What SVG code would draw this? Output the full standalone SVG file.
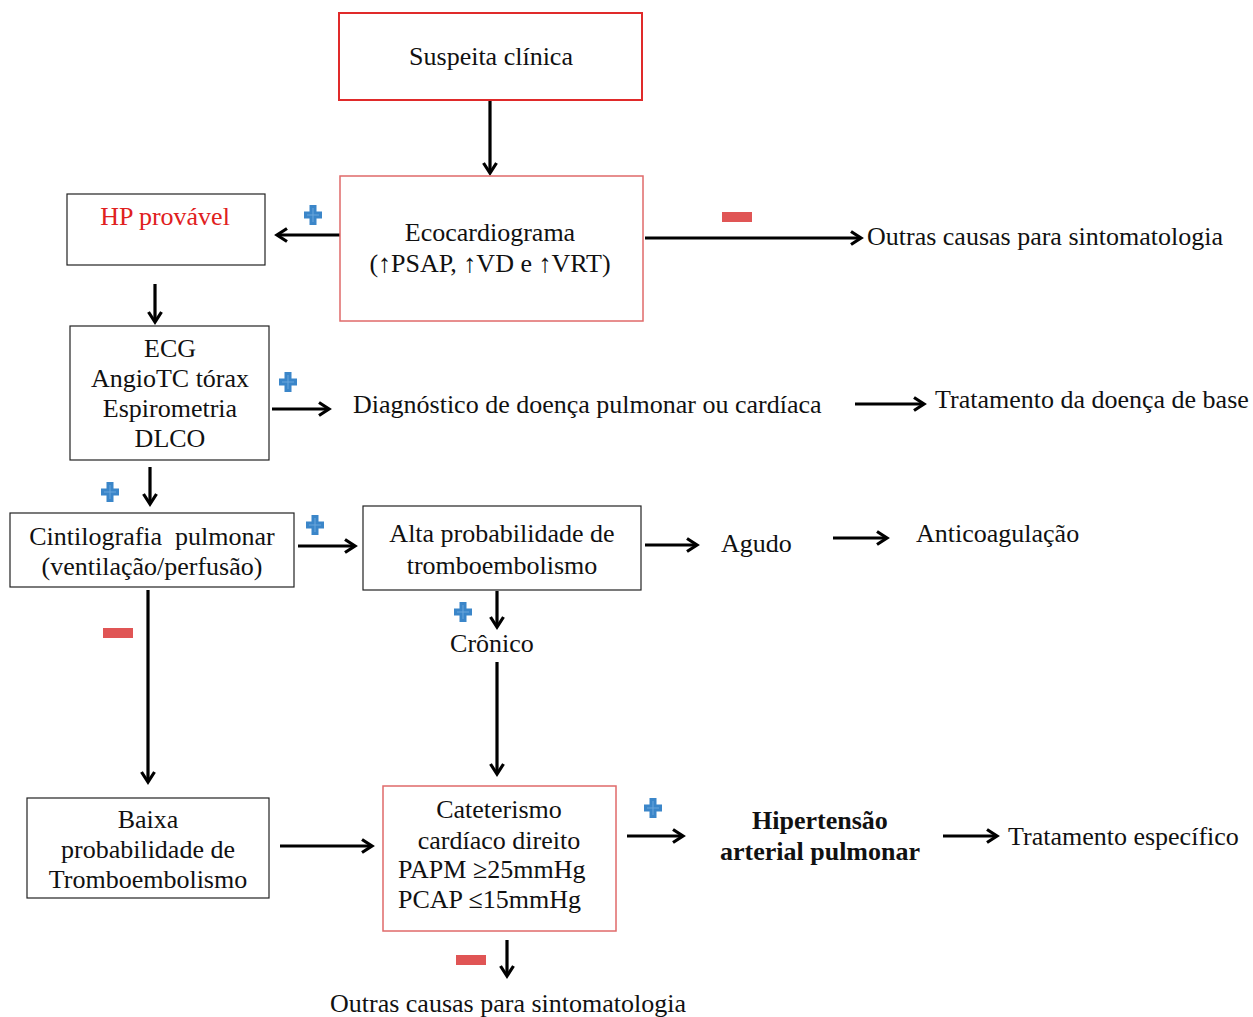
<svg xmlns="http://www.w3.org/2000/svg" width="1253" height="1017" viewBox="0 0 1253 1017">
<style>
text{font-family:"Liberation Serif","Times New Roman",serif;font-size:26px;fill:#111}
.c{text-anchor:middle}
.b{font-weight:bold}
.box{fill:#fff;stroke:#222;stroke-width:1.2}
.rbox{fill:#fff;stroke:#e06a6a;stroke-width:1.5}
.rbox2{fill:#fff;stroke:#e02a2a;stroke-width:2}
.ln{stroke:#000;stroke-width:3.2;fill:none}
</style>
<defs>
<g id="plus"><path d="M-3.5,-10 H3.5 V-3.5 H9 V3.5 H3.5 V10 H-3.5 V3.5 H-9 V-3.5 H-3.5 Z" fill="#3b86c9"/><path d="M0,-7 V7 M-6,0 H6" stroke="#6aa6dc" stroke-width="1"/></g>
<rect id="minus" x="-15" y="-5" width="30" height="10" fill="#e05555"/>
<marker id="ah" markerWidth="16" markerHeight="16" refX="12" refY="8" orient="auto" markerUnits="userSpaceOnUse"><path d="M2,1.5 L12,8 L2,14.5" fill="none" stroke="#000" stroke-width="3.2"/></marker>
</defs>
<g id="connectors">
<line class="ln" x1="490" y1="100" x2="490" y2="173" marker-end="url(#ah)"/>
<line class="ln" x1="342" y1="235" x2="277" y2="235" marker-end="url(#ah)"/>
<line class="ln" x1="645" y1="238" x2="861" y2="238" marker-end="url(#ah)"/>
<line class="ln" x1="155" y1="284" x2="155" y2="322" marker-end="url(#ah)"/>
<line class="ln" x1="272" y1="409" x2="329" y2="409" marker-end="url(#ah)"/>
<line class="ln" x1="855" y1="404" x2="924" y2="404" marker-end="url(#ah)"/>
<line class="ln" x1="150" y1="467" x2="150" y2="504" marker-end="url(#ah)"/>
<line class="ln" x1="298" y1="546" x2="355" y2="546" marker-end="url(#ah)"/>
<line class="ln" x1="645" y1="545" x2="697" y2="545" marker-end="url(#ah)"/>
<line class="ln" x1="833" y1="538" x2="887" y2="538" marker-end="url(#ah)"/>
<line class="ln" x1="497" y1="591" x2="497" y2="627" marker-end="url(#ah)"/>
<line class="ln" x1="497" y1="662" x2="497" y2="774" marker-end="url(#ah)"/>
<line class="ln" x1="148" y1="590" x2="148" y2="782" marker-end="url(#ah)"/>
<line class="ln" x1="280" y1="846" x2="372" y2="846" marker-end="url(#ah)"/>
<line class="ln" x1="627" y1="836" x2="683" y2="836" marker-end="url(#ah)"/>
<line class="ln" x1="943" y1="836" x2="997" y2="836" marker-end="url(#ah)"/>
<line class="ln" x1="507" y1="940" x2="507" y2="976" marker-end="url(#ah)"/>
</g>
<g id="signs">
<use href="#plus" x="313" y="215"/>
<use href="#plus" x="288" y="382"/>
<use href="#plus" x="110" y="492"/>
<use href="#plus" x="315" y="525"/>
<use href="#plus" x="463" y="612"/>
<use href="#plus" x="653" y="808"/>
<use href="#minus" x="737" y="217"/>
<use href="#minus" x="118" y="633"/>
<use href="#minus" x="471" y="960"/>
</g>
<g id="n-suspeita"><rect class="rbox2" x="339" y="13" width="303" height="87"/><text class="c" x="491" y="65">Suspeita clínica</text></g>
<g id="n-eco"><rect class="rbox" x="340" y="176" width="303" height="145"/><text class="c" x="490" y="241">Ecocardiograma</text><text class="c" x="490" y="272">(↑PSAP, ↑VD e ↑VRT)</text></g>
<g id="n-hp"><rect class="box" x="67" y="194" width="198" height="71"/><text class="c" x="165" y="225" style="fill:#e02020">HP provável</text></g>
<g id="n-ecg"><rect class="box" x="70" y="326" width="199" height="134"/><text class="c" x="170" y="357">ECG</text><text class="c" x="170" y="387">AngioTC tórax</text><text class="c" x="170" y="417">Espirometria</text><text class="c" x="170" y="447">DLCO</text></g>
<g id="n-diag"><text x="353" y="413">Diagnóstico de doença pulmonar ou cardíaca</text></g>
<g id="n-trat-base"><text x="935" y="408">Tratamento da doença de base</text></g>
<g id="n-outras1"><text x="867" y="245">Outras causas para sintomatologia</text></g>
<g id="n-cinti"><rect class="box" x="10" y="513" width="284" height="74"/><text class="c" x="152" y="545" xml:space="preserve">Cintilografia  pulmonar</text><text class="c" x="152" y="575">(ventilação/perfusão)</text></g>
<g id="n-alta"><rect class="box" x="363" y="506" width="278" height="84"/><text class="c" x="502" y="542">Alta probabilidade de</text><text class="c" x="502" y="574">tromboembolismo</text></g>
<g id="n-agudo"><text x="721" y="552">Agudo</text></g>
<g id="n-antico"><text x="916" y="542">Anticoagulação</text></g>
<g id="n-cronico"><text class="c" x="492" y="652">Crônico</text></g>
<g id="n-baixa"><rect class="box" x="27" y="798" width="242" height="100"/><text class="c" x="148" y="828">Baixa</text><text class="c" x="148" y="858">probabilidade de</text><text class="c" x="148" y="888">Tromboembolismo</text></g>
<g id="n-cat"><rect class="rbox" x="383" y="786" width="233" height="145"/><text class="c" x="499" y="818">Cateterismo</text><text class="c" x="499" y="849">cardíaco direito</text><text x="398" y="878">PAPM ≥25mmHg</text><text x="398" y="908">PCAP ≤15mmHg</text></g>
<g id="n-hap"><text class="c b" x="820" y="829">Hipertensão</text><text class="c b" x="820" y="860">arterial pulmonar</text></g>
<g id="n-trat-esp"><text x="1008" y="845">Tratamento específico</text></g>
<g id="n-outras2"><text class="c" x="508" y="1012">Outras causas para sintomatologia</text></g>
</svg>
